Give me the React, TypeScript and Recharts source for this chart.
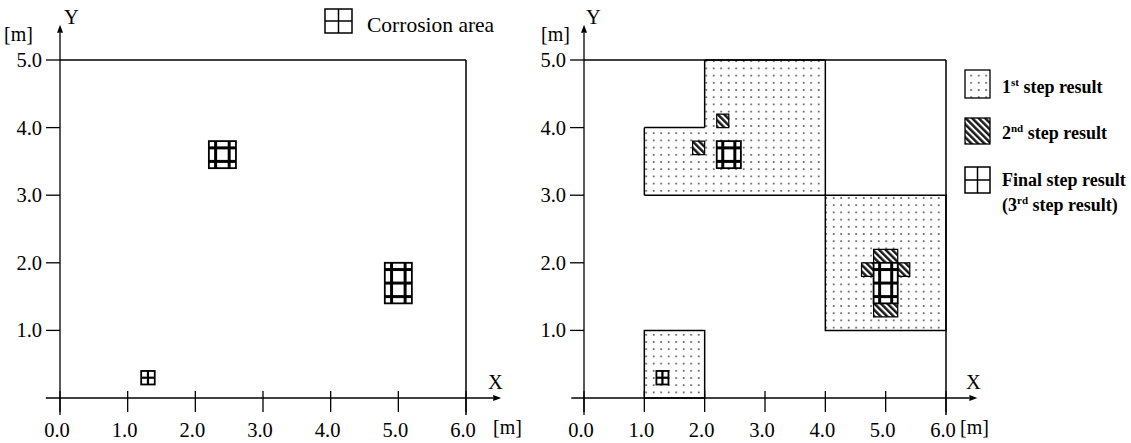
import React from "react";
import { ComposedChart, XAxis, YAxis, ReferenceArea, ReferenceLine } from "recharts";

const xTicks = [0, 1, 2, 3, 4, 5, 6];
const yTicks = [1, 2, 3, 4, 5];

// [x1, x2, y1, y2] in m
const corrosionAreas = [
  [2.2, 2.6, 3.4, 3.8],
  [4.8, 5.2, 1.4, 2.0],
  [1.2, 1.4, 0.2, 0.4],
];
// final (3rd) step ends up on the corrosion areas
const finalStepAreas = corrosionAreas;

// 1st step: L shaped zone (outline + fill pieces) and two rectangles
const step1Outline = [[1, 3], [4, 3], [4, 5], [2, 5], [2, 4], [1, 4], [1, 3]];
const step1Fill = [[1, 4, 3, 4], [2, 4, 4, 5]];
const step1Rects = [[1, 2, 0, 1], [4, 6, 1, 3]];

// 2nd step cells
const step2Cells = [
  [2.2, 2.4, 4.0, 4.2],
  [1.8, 2.0, 3.6, 3.8],
  [4.8, 5.2, 2.0, 2.2],
  [4.6, 4.8, 1.8, 2.0],
  [5.2, 5.4, 1.8, 2.0],
  [4.8, 5.2, 1.2, 1.4],
];

const CELL = 0.2;
const FONT = "'Liberation Serif', 'Times New Roman', serif";

const XTick = (p: any) => {
  const { x, y, payload } = p;
  return (
    <g>
      <line x1={x} x2={x} y1={y - 7} y2={y + 14} stroke="#000" strokeWidth={1.3} />
      <text x={x - 3} y={y + 39} textAnchor="middle" fontFamily={FONT} fontSize={20.5} fill="#000">
        {payload.value.toFixed(1)}
      </text>
    </g>
  );
};

const YTick = (p: any) => {
  const { x, y, payload } = p;
  return (
    <g>
      <line x1={x - 14} x2={x} y1={y} y2={y} stroke="#000" strokeWidth={1.3} />
      <text x={x - 18} y={y + 7} textAnchor="end" fontFamily={FONT} fontSize={20.5} fill="#000">
        {payload.value.toFixed(1)}
      </text>
    </g>
  );
};

const ArrowLine = (p: any) => {
  const { x1, y1, x2, y2 } = p;
  const a = Math.atan2(y2 - y1, x2 - x1);
  const L = 8;
  const W = 3;
  const bx = x2 - L * Math.cos(a);
  const by = y2 - L * Math.sin(a);
  const pts = `${x2},${y2} ${bx - W * Math.sin(a)},${by + W * Math.cos(a)} ${bx + W * Math.sin(a)},${by - W * Math.cos(a)}`;
  return (
    <g>
      <line x1={x1} y1={y1} x2={bx} y2={by} stroke="#000" strokeWidth={1.3} />
      <polygon points={pts} fill="#000" />
    </g>
  );
};

const PlainLine = (p: any) => (
  <line x1={p.x1} y1={p.y1} x2={p.x2} y2={p.y2} stroke="#000" strokeWidth={1.5} />
);

// box with thick grid lines through the 0.2 m cells
const gridBox = (a: number[]) => (p: any) => {
  const { x, y, width, height } = p;
  const cols = Math.round((a[1] - a[0]) / CELL);
  const rows = Math.round((a[3] - a[2]) / CELL);
  const cw = width / cols;
  const rh = height / rows;
  const thick = cols === 1 ? 2.2 : 3;
  const lines = [];
  for (let i = 0; i < cols; i++) {
    const lx = x + cw / 2 + i * cw;
    lines.push(<line key={"v" + i} x1={lx} x2={lx} y1={y} y2={y + height} stroke="#000" strokeWidth={thick} />);
  }
  for (let j = 0; j < rows; j++) {
    const ly = y + rh / 2 + j * rh;
    lines.push(<line key={"h" + j} x1={x} x2={x + width} y1={ly} y2={ly} stroke="#000" strokeWidth={thick} />);
  }
  return (
    <g>
      <rect x={x} y={y} width={width} height={height} fill="#fff" stroke="#000" strokeWidth={1.8} />
      {lines}
    </g>
  );
};

const axisDecor = () => [
  <ReferenceLine key="ax" segment={[{ x: -0.21, y: 0 }, { x: 6.52, y: 0 }]} ifOverflow="visible" shape={ArrowLine} />,
  <ReferenceLine key="ay" segment={[{ x: 0, y: -0.25 }, { x: 0, y: 5.52 }]} ifOverflow="visible" shape={ArrowLine} />,
  <ReferenceLine key="top" segment={[{ x: 0, y: 5 }, { x: 6, y: 5 }]} ifOverflow="visible" shape={PlainLine} />,
  <ReferenceLine key="right" segment={[{ x: 6, y: -0.25 }, { x: 6, y: 5 }]} ifOverflow="visible" shape={PlainLine} />,
];

const axes = (plotLeft: number) => [
  <XAxis
    key="x"
    type="number"
    dataKey="x"
    domain={[0, 6]}
    ticks={xTicks}
    interval={0}
    height={45}
    axisLine={false}
    tickLine={false}
    tickSize={0}
    tickMargin={0}
    tick={XTick}
    allowDataOverflow
  />,
  <YAxis
    key="y"
    type="number"
    dataKey="y"
    domain={[0, 5]}
    ticks={yTicks}
    interval={0}
    width={plotLeft}
    axisLine={false}
    tickLine={false}
    tickSize={0}
    tickMargin={0}
    tick={YTick}
    allowDataOverflow
  />,
];

const Defs = () => (
  <svg width={0} height={0} style={{ position: "absolute" }}>
    <defs>
      <pattern id="dots" patternUnits="userSpaceOnUse" width={7.5} height={7.2}>
        <rect width={7.5} height={7.2} fill="#fff" />
        <circle cx={3.7} cy={3.6} r={0.95} fill="#444" />
      </pattern>
      <pattern id="hatch" patternUnits="userSpaceOnUse" width={4.6} height={4.6} patternTransform="rotate(-45)">
        <rect width={4.6} height={4.6} fill="#fff" />
        <rect width={2.5} height={4.6} fill="#1a1a1a" />
      </pattern>
    </defs>
  </svg>
);

const LeftChart = () => (
  <ComposedChart width={530} height={443} margin={{ top: 60, right: 64, bottom: 0, left: 0 }}>
    {axes(60)}
    {axisDecor()}
    {corrosionAreas.map((a, i) => (
      <ReferenceArea key={"c" + i} x1={a[0]} x2={a[1]} y1={a[2]} y2={a[3]} shape={gridBox(a)} />
    ))}
  </ComposedChart>
);

const RightChart = () => (
  <ComposedChart width={601} height={443} margin={{ top: 60, right: 185, bottom: 0, left: 0 }}>
    {axes(54)}
    {step1Fill.map((a, i) => (
      <ReferenceArea key={"f" + i} x1={a[0]} x2={a[1]} y1={a[2]} y2={a[3]} fill="url(#dots)" fillOpacity={1} stroke="none" />
    ))}
    {step1Rects.map((a, i) => (
      <ReferenceArea key={"r" + i} x1={a[0]} x2={a[1]} y1={a[2]} y2={a[3]} fill="url(#dots)" fillOpacity={1} stroke="#000" strokeWidth={1.5} />
    ))}
    {step1Outline.slice(1).map((pt, i) => (
      <ReferenceLine
        key={"o" + i}
        segment={[{ x: step1Outline[i][0], y: step1Outline[i][1] }, { x: pt[0], y: pt[1] }]}
        ifOverflow="visible"
        shape={PlainLine}
      />
    ))}
    {axisDecor()}
    {step2Cells.map((a, i) => (
      <ReferenceArea key={"h" + i} x1={a[0]} x2={a[1]} y1={a[2]} y2={a[3]} fill="url(#hatch)" fillOpacity={1} stroke="#000" strokeWidth={1.2} />
    ))}
    {finalStepAreas.map((a, i) => (
      <ReferenceArea key={"g" + i} x1={a[0]} x2={a[1]} y1={a[2]} y2={a[3]} shape={gridBox(a)} />
    ))}
  </ComposedChart>
);

const CrossIcon = ({ x, y, w, h }: { x: number; y: number; w: number; h: number }) => (
  <g stroke="#000" strokeWidth={1.5} fill="#fff">
    <rect x={x} y={y} width={w} height={h} />
    <line x1={x + w / 2} x2={x + w / 2} y1={y} y2={y + h} />
    <line x1={x} x2={x + w} y1={y + h / 2} y2={y + h / 2} />
  </g>
);

const Labels = () => (
  <svg width={1131} height={443} style={{ position: "absolute", left: 0, top: 0, pointerEvents: "none" }} fontFamily={FONT} fill="#000">
    <text x={64} y={24} fontSize={20.5}>Y</text>
    <text x={4} y={41} fontSize={20}>[m]</text>
    <text x={488} y={389} fontSize={20.5}>X</text>
    <text x={493} y={434} fontSize={20}>[m]</text>
    <CrossIcon x={325} y={9} w={27} h={24} />
    <text x={367} y={32} fontSize={21.5}>Corrosion area</text>

    <text x={586} y={24} fontSize={20.5}>Y</text>
    <text x={541} y={41} fontSize={20}>[m]</text>
    <text x={966} y={389} fontSize={20.5}>X</text>
    <text x={960} y={434} fontSize={20}>[m]</text>

    <rect x={965} y={70} width={25} height={28} fill="url(#dots)" stroke="#000" strokeWidth={1.3} />
    <text x={1002} y={93} fontSize={18} fontWeight="bold">
      1<tspan fontSize={11} dy={-7}>st</tspan>
      <tspan dy={7}> step result</tspan>
    </text>
    <rect x={965} y={118} width={25} height={26} fill="url(#hatch)" stroke="#000" strokeWidth={1.3} />
    <text x={1002} y={139} fontSize={18} fontWeight="bold">
      2<tspan fontSize={11} dy={-7}>nd</tspan>
      <tspan dy={7}> step result</tspan>
    </text>
    <CrossIcon x={965} y={167} w={25} h={26} />
    <text x={1002} y={186} fontSize={18} fontWeight="bold">Final step result</text>
    <text x={1002} y={211} fontSize={18} fontWeight="bold">
      (3<tspan fontSize={11} dy={-7}>rd</tspan>
      <tspan dy={7}> step result)</tspan>
    </text>
  </svg>
);

export default function App() {
  return (
    <div style={{ position: "absolute", left: 0, top: 0, width: 1131, height: 443, background: "#fff" }}>
      <Defs />
      <div style={{ position: "absolute", left: 0, top: 0 }}>
        <LeftChart />
      </div>
      <div style={{ position: "absolute", left: 530, top: 0 }}>
        <RightChart />
      </div>
      <Labels />
    </div>
  );
}
